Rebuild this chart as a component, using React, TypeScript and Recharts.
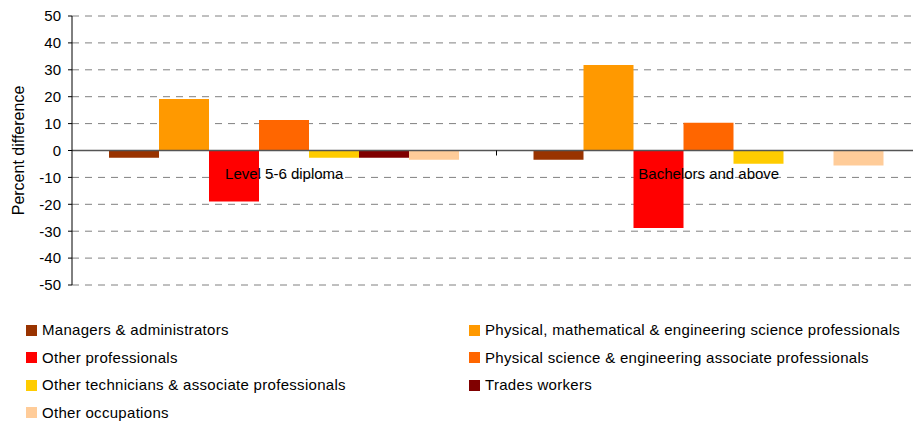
import {
  BarChart,
  Bar,
  XAxis,
  YAxis,
  CartesianGrid,
  ReferenceLine,
} from "recharts";

const CATEGORIES = ["Level 5-6 diploma", "Bachelors and above"];

const SERIES_NAMES = [
  "Managers & administrators",
  "Physical, mathematical & engineering science professionals",
  "Other professionals",
  "Physical science & engineering associate professionals",
  "Other technicians & associate professionals",
  "Trades workers",
  "Other occupations",
];

const MANAGERS = [-2.7, -3.4];
const PHYS_MATH_ENG = [19.1, 31.8];
const OTHER_PROFESSIONALS = [-19.0, -28.8];
const PHYS_SCI_ASSOC = [11.3, 10.3];
const OTHER_TECHNICIANS = [-2.7, -4.9];
const TRADES = [-2.7, 0];
const OTHER_OCCUPATIONS = [-3.4, -5.6];

const Y_TICKS = [-50, -40, -30, -20, -10, 0, 10, 20, 30, 40, 50];

const SERIES_VALUES = [
  MANAGERS,
  PHYS_MATH_ENG,
  OTHER_PROFESSIONALS,
  PHYS_SCI_ASSOC,
  OTHER_TECHNICIANS,
  TRADES,
  OTHER_OCCUPATIONS,
];

const SERIES_COLORS = [
  "#993300",
  "#FF9900",
  "#FF0000",
  "#FF6600",
  "#FFCC00",
  "#800000",
  "#FFCC99",
];

const FONT = '"Liberation Sans", Arial, sans-serif';

// layout
const CHART_W = 925;
const CHART_H = 423;
const X_AXIS_H = 1;
const MARGIN = { top: 16, right: 4, bottom: 137, left: 0 };
const Y_AXIS_W = 72;
const PLOT_H = CHART_H - MARGIN.top - MARGIN.bottom - X_AXIS_H;
const PLOT_W = CHART_W - MARGIN.left - MARGIN.right - Y_AXIS_W;
const ZERO_Y = MARGIN.top + PLOT_H / 2;
const BAND = PLOT_W / CATEGORIES.length;

const data = CATEGORIES.map((name, i) => {
  const row: Record<string, string | number> = { name };
  SERIES_VALUES.forEach((vals, s) => {
    row["s" + s] = vals[i];
  });
  return row;
});

function CategoryTick({ x, payload }: { x?: number; payload?: { value: string } }) {
  const cx = x ?? 0;
  return (
    <g>
      <line
        x1={cx + BAND / 2}
        x2={cx + BAND / 2}
        y1={ZERO_Y}
        y2={ZERO_Y + 5}
        stroke="#000"
      />
      <text
        x={cx}
        y={ZERO_Y + 28}
        textAnchor="middle"
        fontSize={15}
        fontFamily={FONT}
        fill="#000"
      >
        {payload?.value}
      </text>
    </g>
  );
}

function Legend() {
  return (
    <div style={{ position: "absolute", left: 0, top: 320, width: 913 }}>
      {SERIES_NAMES.map((name, i) => {
        const col = i % 2;
        const row = Math.floor(i / 2);
        return (
          <div
            key={name}
            style={{
              position: "absolute",
              left: col ? 469 : 26,
              top: row * 27.5,
              display: "flex",
              alignItems: "center",
              fontFamily: FONT,
              fontSize: 15,
              letterSpacing: 0.3,
              lineHeight: "20px",
              color: "#000",
              whiteSpace: "nowrap",
            }}
          >
            <span
              style={{
                display: "inline-block",
                width: 11,
                height: 11,
                background: SERIES_COLORS[i],
                marginRight: 5,
              }}
            />
            {name}
          </div>
        );
      })}
    </div>
  );
}

export default function App() {
  return (
    <div
      style={{
        position: "absolute",
        left: 0,
        top: 0,
        width: 913,
        height: 423,
        overflow: "hidden",
        background: "#fff",
      }}
    >
      <BarChart
        width={CHART_W}
        height={CHART_H}
        data={data}
        margin={MARGIN}
        barCategoryGap={37}
        barGap={0}
      >
        <CartesianGrid
          vertical={false}
          stroke="#808080"
          strokeDasharray="7 6"
        />
        <YAxis
          domain={[-50, 50]}
          ticks={Y_TICKS}
          width={Y_AXIS_W}
          interval={0}
          tickSize={4}
          tickMargin={7}
          axisLine={{ stroke: "#000" }}
          tickLine={{ stroke: "#000" }}
          tick={{ fontSize: 15, fontFamily: FONT, fill: "#000" }}
          label={{
            content: () => (
              <text
                x={18}
                y={ZERO_Y}
                transform={`rotate(-90 18 ${ZERO_Y})`}
                textAnchor="middle"
                dominantBaseline="central"
                fontSize={16}
                fontFamily={FONT}
                fill="#000"
              >
                Percent difference
              </text>
            ),
          }}
        />
        {SERIES_NAMES.map((name, s) => (
          <Bar
            key={name}
            dataKey={"s" + s}
            name={name}
            fill={SERIES_COLORS[s]}
            isAnimationActive={false}
          />
        ))}
        <ReferenceLine y={0} stroke="#555" strokeWidth={1.5} />
        <XAxis
          dataKey="name"
          height={X_AXIS_H}
          axisLine={false}
          tickLine={false}
          interval={0}
          tick={<CategoryTick />}
        />
      </BarChart>
      <Legend />
    </div>
  );
}
